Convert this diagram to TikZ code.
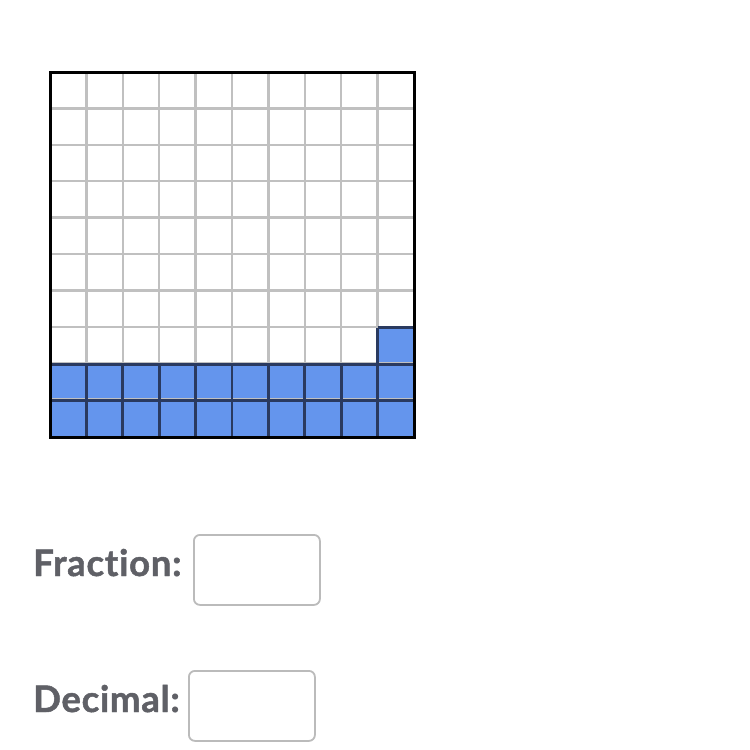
\documentclass[tikz,border=0pt]{standalone}
\usepackage{fontspec}
\setmainfont{Lato}
\newfontfamily\heavyfont[FakeBold=1.3,LetterSpace=2,Ligatures={NoCommon,NoRare,NoDiscretionary}]{Lato}
\definecolor{fillblue}{HTML}{6495ED}
\definecolor{darkline}{HTML}{2A3A60}
\definecolor{gridgray}{HTML}{C0C0C0}
\definecolor{labelgray}{HTML}{5F6066}
\definecolor{boxgray}{HTML}{BBBBBB}
\begin{document}
\begin{tikzpicture}[x=1pt,y=-1pt,
  lbl/.style={anchor=base west,inner sep=0pt,text=labelgray,font=\heavyfont\bfseries\fontsize{36.5}{42}\selectfont},
  answerbox/.style={draw=boxgray,line width=1.8pt,rounded corners=6pt,minimum width=126pt,minimum height=70pt,inner sep=0pt,anchor=north west}]
\useasboundingbox (0,0) rectangle (750,750);
\def\cs{36.4}
% shaded cells
\fill[fillblue] (50,364.2) rectangle (414,437);
\fill[fillblue] (377.6,327.8) rectangle (414,364.2);
% grey grid lines
\foreach \i in {1,...,9} {
  \draw[gridgray,line width=2.5pt] ({50+\i*\cs},72) -- ({50+\i*\cs},364.2);
  \draw[gridgray,line width=2.5pt] (50,{72+\i*\cs}) -- (414,{72+\i*\cs});
}
% dark lines in shaded area
\foreach \i in {1,...,9} {
  \draw[darkline,line width=2.8pt] ({50+\i*\cs},364.2) -- ({50+\i*\cs},437);
}
\draw[darkline,line width=2.8pt] (50,364.2) -- (414,364.2);
\draw[darkline,line width=2.8pt] (50,400.6) -- (414,400.6);
\draw[darkline,line width=2.8pt] (377.6,327.8) -- (414,327.8);
\draw[darkline,line width=2.8pt] (377.6,327.8) -- (377.6,364.2);
% outer frame
\draw[black,line width=3pt] (50,72) rectangle (414,437);
% labels and boxes
\node[lbl] (frac) at (33,576) {Frac{}tion:};
\node[answerbox] (fracbox) at (193,534) {};
\node[lbl] (dec) at (33,712) {Decimal:};
\node[answerbox] (decbox) at (188,670) {};
\end{tikzpicture}
\end{document}
